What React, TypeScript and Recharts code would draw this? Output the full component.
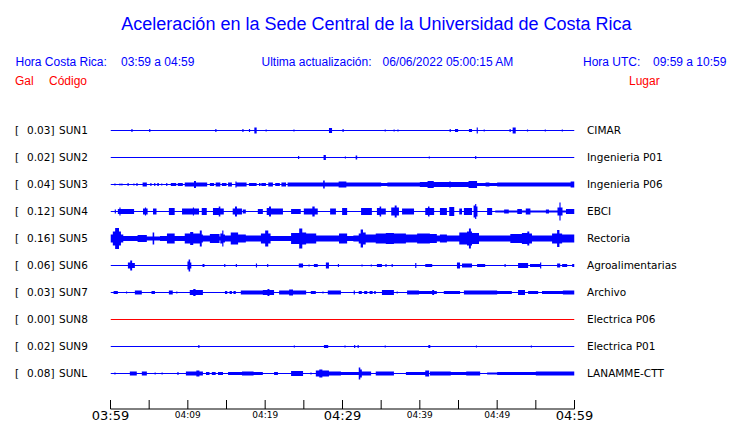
import React from "react";
import { ComposedChart, Area, XAxis, YAxis } from "recharts";

type Burst = [number, number, number]; // [start min, end min, half amplitude]

const CODES = ["SUN1", "SUN2", "SUN3", "SUN4", "SUN5", "SUN6", "SUN7", "SUN8", "SUN9", "SUNL"];
const PLACES = ["CIMAR", "Ingenieria P01", "Ingenieria P06", "EBCI", "Rectoria", "Agroalimentarias", "Archivo", "Electrica P06", "Electrica P01", "LANAMME-CTT"];
const GAL = ["0.03", "0.02", "0.04", "0.12", "0.16", "0.06", "0.03", "0.00", "0.02", "0.08"];
const BASE = [0.5, 0.5, 0.5, 0.5, 2, 0.5, 0.5, 0.5, 0.5, 0.5];
const TRACE_COLORS = ["#0000ff", "#0000ff", "#0000ff", "#0000ff", "#0000ff", "#0000ff", "#0000ff", "#ff0000", "#0000ff", "#0000ff"];
const TIME_TICKS = [0, 5, 10, 15, 20, 25, 30, 35, 40, 45, 50, 55, 60];
const TICK_LABELS: Record<number, string> = { 0: "03:59", 10: "04:09", 20: "04:19", 30: "04:29", 40: "04:39", 50: "04:49", 60: "04:59" };
const MAJOR_TICKS = [0, 30, 60];
const ROW_STEP = 27;

const SUN1: Burst[] = [
  [2.7, 2.85, 1.5], [5.0, 5.15, 1.5], [13.55, 13.7, 1.5], [17.05, 17.2, 1.5], [17.9, 18.05, 1.5],
  [18.6, 18.9, 3], [20.05, 20.2, 1], [23.65, 23.8, 1], [28.25, 28.65, 2.5], [30.0, 30.15, 1.5],
  [35.45, 35.6, 1], [36.6, 36.75, 1], [37.1, 37.25, 1], [43.85, 44.0, 1.5], [44.55, 44.95, 1.5],
  [46.35, 46.75, 1.5], [47.35, 47.5, 3], [48.25, 48.4, 1], [51.6, 51.75, 1.5], [52.0, 52.4, 3],
  [53.85, 54.0, 1], [56.15, 56.3, 1], [58.35, 58.5, 1],
];
const SUN2: Burst[] = [
  [24.25, 24.4, 1.5], [27.55, 27.85, 2.5], [30.3, 30.45, 1], [31.7, 31.9, 2], [41.15, 41.3, 1], [47.15, 47.3, 1.5],
];
const SUN3: Burst[] = [
  [0.5, 0.65, 1], [1.15, 1.3, 1], [1.4, 1.55, 1], [2.2, 2.35, 1.5], [2.95, 3.1, 1], [3.35, 3.5, 1.5],
  [4.15, 4.7, 2], [5.15, 5.3, 1.5], [5.65, 5.8, 1.5], [6.05, 6.25, 1.5], [6.55, 6.7, 1], [7.2, 7.35, 1.5],
  [7.8, 8.5, 1.5], [8.7, 9.35, 1.5], [9.6, 10.8, 2], [10.8, 11.05, 3.5], [11.05, 12.5, 2], [12.85, 13.4, 1.5],
  [13.6, 14.2, 2], [14.4, 15.0, 1.5], [15.2, 15.7, 2], [16.15, 16.3, 3], [16.3, 17.6, 2], [17.9, 18.9, 1.5],
  [19.2, 19.4, 1.5], [19.5, 20.1, 1.5], [20.4, 21.0, 2], [21.3, 21.9, 1.5], [22.1, 22.7, 2], [22.9, 27.5, 2],
  [27.5, 27.7, 4], [27.7, 29.5, 2], [29.5, 30.5, 3], [30.5, 35.0, 2], [35.0, 35.8, 1.5], [35.8, 40.0, 2],
  [40.0, 41.0, 2.5], [41.0, 41.8, 3.5], [41.8, 43.8, 2.5], [43.8, 44.0, 3], [44.0, 46.3, 2.5], [46.3, 47.4, 3.5],
  [47.4, 48.5, 1.5], [48.5, 49.0, 2], [49.0, 50.0, 1.5], [50.0, 59.5, 2], [59.5, 60, 3],
];
const SUN4: Burst[] = [
  [0.55, 0.7, 2], [0.95, 1.15, 2.5], [1.15, 1.3, 4], [1.3, 3.05, 2.5], [4.2, 4.45, 3], [4.45, 4.6, 4],
  [4.6, 4.8, 3], [5.5, 5.95, 3], [7.55, 8.3, 3.5], [9.25, 10.65, 3], [10.65, 10.8, 4], [10.8, 11.45, 3],
  [11.8, 12.45, 3.5], [13.25, 14.0, 3.5], [14.0, 14.2, 5], [14.2, 14.65, 3], [15.8, 16.1, 3], [16.1, 16.35, 5],
  [16.35, 17.0, 3], [17.1, 17.5, 2], [19.05, 19.7, 2.5], [20.2, 20.5, 3.5], [20.5, 20.75, 5], [20.75, 22.3, 3],
  [23.35, 24.6, 2.5], [25.0, 26.1, 3], [26.1, 26.4, 5], [26.4, 26.8, 3], [28.4, 29.15, 3], [29.95, 30.6, 3.5],
  [32.4, 33.8, 3.5], [34.45, 34.8, 3.5], [34.8, 35.0, 5], [35.0, 35.6, 3], [36.3, 36.75, 4], [36.75, 37.0, 6],
  [37.0, 37.3, 4], [37.7, 39.25, 3], [40.7, 41.05, 3.5], [41.05, 41.25, 5], [41.25, 41.85, 3.5], [42.6, 43.5, 3.5],
  [43.8, 44.45, 4.5], [45.1, 45.45, 3], [45.7, 46.75, 3.5], [46.95, 47.15, 6], [47.15, 47.3, 7.5], [47.3, 47.45, 5],
  [48.7, 49.35, 3.5], [49.75, 50.9, 1], [50.9, 51.5, 2], [51.5, 52.6, 1], [52.6, 53.2, 2.5], [53.2, 53.7, 1],
  [53.7, 54.3, 3], [54.3, 56.3, 1], [56.3, 56.7, 2], [56.7, 57.8, 1], [57.8, 58.05, 4], [58.05, 58.2, 9],
  [58.2, 58.45, 4], [58.45, 58.9, 1], [58.9, 60, 2.5],
];
const SUN5: Burst[] = [
  [0, 0.3, 4], [0.3, 0.6, 7], [0.6, 1.1, 10.5], [1.1, 1.35, 7], [1.35, 1.65, 4], [1.65, 3.5, 2.5],
  [3.5, 4.7, 3.5], [5.45, 5.65, 6], [6.4, 7.3, 2.5], [7.3, 8.3, 5], [8.3, 9.6, 2.5], [9.6, 10.3, 5],
  [10.3, 10.7, 6.5], [10.7, 11.55, 5], [11.55, 11.8, 8], [11.8, 11.95, 4], [11.95, 12.85, 3], [12.85, 14.1, 4.5],
  [14.2, 14.45, 5], [14.45, 14.6, 8], [14.6, 14.8, 4], [14.8, 15.55, 3], [15.55, 16.5, 6], [16.5, 17.5, 4],
  [17.5, 19.45, 3], [19.45, 20.0, 5], [20.0, 20.4, 8], [20.4, 20.7, 5], [20.7, 23.35, 2.5], [23.35, 24.4, 5.5],
  [24.4, 24.8, 10], [24.8, 25.3, 6], [25.3, 26.6, 5], [26.6, 29.55, 3], [29.55, 30.6, 5], [30.6, 31.4, 2.5],
  [31.4, 32.1, 3], [32.1, 32.35, 5], [32.35, 32.65, 9], [32.65, 33.0, 6], [33.0, 34.3, 4], [34.3, 35.6, 5],
  [35.6, 36.65, 5.5], [36.65, 38.2, 5], [38.2, 39.65, 4], [39.65, 41.3, 5], [41.3, 42.2, 4.5], [42.2, 42.6, 3],
  [42.6, 43.5, 4], [43.5, 45.1, 3], [45.1, 46.1, 6], [46.1, 46.35, 7], [46.35, 46.6, 10], [46.6, 46.75, 7],
  [46.75, 47.65, 5.5], [47.65, 51.7, 3], [51.7, 53.2, 4.5], [53.2, 53.9, 5.5], [53.9, 54.15, 7], [54.15, 54.5, 5],
  [54.5, 57.1, 3], [57.1, 57.75, 5], [57.75, 58.05, 8.5], [58.05, 58.4, 5], [58.4, 60, 4],
];
const SUN6: Burst[] = [
  [2.25, 2.55, 3], [2.55, 2.8, 5], [2.8, 3.15, 2.5], [9.95, 10.1, 4], [10.1, 10.3, 6], [10.3, 10.45, 3],
  [11.9, 12.15, 1.5], [14.7, 14.85, 1.5], [16.2, 16.35, 1.5], [18.8, 18.95, 2], [20.25, 20.4, 1.5],
  [24.35, 24.9, 2], [25.6, 25.75, 1], [26.3, 26.8, 1.5], [27.85, 28.25, 3], [29.4, 29.55, 1.5],
  [32.45, 32.6, 1], [33.65, 33.8, 1], [34.45, 35.1, 1.5], [35.55, 35.7, 1.5], [36.35, 36.5, 1.5],
  [39.4, 39.55, 2.5], [40.7, 41.6, 1.5], [44.8, 45.2, 3], [45.45, 46.75, 2], [47.4, 48.45, 1.5],
  [50.95, 51.1, 1.5], [52.7, 54.0, 2.5], [54.25, 55.55, 1.5], [55.55, 55.7, 3], [57.75, 58.15, 2],
  [58.4, 59.05, 1.5], [59.7, 60, 1.5],
];
const SUN7: Burst[] = [
  [0.4, 0.95, 1.5], [2.0, 2.15, 1], [3.15, 4.05, 2], [5.3, 5.75, 1.5], [7.55, 8.05, 2], [8.5, 8.65, 1],
  [10.25, 10.7, 2.5], [10.7, 11.0, 3.5], [11.0, 11.95, 2.5], [14.8, 15.1, 1.5], [15.4, 15.7, 1.5],
  [15.9, 16.2, 1.5], [16.85, 19.7, 2], [19.7, 20.3, 2.5], [20.3, 20.55, 3.5], [20.55, 21.15, 2.5],
  [21.8, 23.1, 2], [23.1, 23.6, 3], [23.6, 25.3, 2], [25.9, 26.55, 1.5], [27.4, 27.55, 1], [28.1, 29.8, 2],
  [31.45, 31.6, 2], [32.1, 32.5, 1.5], [32.8, 33.2, 1.5], [33.5, 33.9, 1.5], [34.1, 34.3, 1.5],
  [35.1, 36.65, 2.5], [37.0, 37.15, 1], [38.35, 39.9, 2], [39.9, 41.6, 1.5], [41.6, 41.85, 2.5],
  [41.85, 42.2, 1.5], [43.1, 45.2, 1.5], [45.7, 50.0, 2], [50.0, 51.9, 1.5], [52.7, 53.6, 2.5],
  [54.0, 55.3, 1.5], [55.8, 58.5, 1.5], [58.5, 60, 2],
];
const SUN8: Burst[] = [];
const SUN9: Burst[] = [
  [11.35, 11.5, 1.5], [23.7, 23.85, 1], [27.6, 28.15, 1.5], [30.25, 30.4, 1], [31.5, 31.65, 1.5],
  [31.95, 32.1, 1.5], [35.45, 35.6, 1], [41.1, 41.35, 1.5], [47.25, 47.4, 1], [54.35, 54.5, 1],
];
const SUNL: Burst[] = [
  [0.5, 0.65, 1], [2.5, 3.4, 2], [4.05, 4.7, 2], [5.7, 5.85, 1], [6.6, 6.75, 1], [8.65, 8.8, 1.5],
  [9.75, 11.1, 2], [11.1, 11.5, 3], [11.5, 11.95, 2], [12.35, 12.8, 1.5], [13.1, 13.6, 1.5], [13.9, 14.55, 1.5],
  [15.2, 17.0, 1.5], [17.0, 18.5, 2], [18.5, 19.7, 1.5], [21.15, 21.65, 1.5], [23.35, 24.9, 2.5],
  [25.85, 26.0, 1], [26.55, 27.0, 3], [27.0, 27.4, 4], [27.4, 28.25, 3], [28.25, 29.8, 2], [29.8, 32.1, 1.5],
  [32.1, 32.3, 6], [32.3, 32.5, 4], [32.5, 33.7, 2], [34.3, 36.65, 2], [38.2, 39.9, 1.5], [39.9, 40.7, 1.5],
  [40.7, 41.2, 3], [41.3, 44.0, 2], [44.0, 46.0, 1.5], [46.0, 47.8, 2], [48.7, 50.0, 1], [50.0, 55.0, 1.5],
  [55.0, 60, 2],
];
const BURSTS: Burst[][] = [SUN1, SUN2, SUN3, SUN4, SUN5, SUN6, SUN7, SUN8, SUN9, SUNL];
const ROW_VALUES = CODES.map((_, i) => -ROW_STEP * i);

function buildTrace(row: number) {
  const off = ROW_VALUES[row];
  const base = BASE[row];
  const pts: { t: number; r: [number, number] }[] = [];
  const push = (t: number, a: number) => pts.push({ t, r: [off - a, off + a] });
  push(0, base);
  for (const [s, e, a] of BURSTS[row]) {
    push(s, a);
    push(e, base);
  }
  push(60, base);
  return pts;
}

const TRACES = CODES.map((_, i) => buildTrace(i));

const BLUE = "#0000ff";
const RED = "#ff0000";

const TimeTick = (p: any) => {
  const { x, y, payload } = p;
  const label = TICK_LABELS[payload.value];
  const major = MAJOR_TICKS.includes(payload.value);
  return (
    <g>
      <line x1={x} x2={x} y1={y - 9} y2={y} stroke="#000" strokeWidth={1} />
      {label ? (
        <text
          x={x}
          y={major ? y + 11 : y + 9}
          textAnchor="middle"
          fontFamily="DejaVu Sans"
          fontSize={major ? 13 : 9}
          fill="#000"
        >
          {label}
        </text>
      ) : null}
    </g>
  );
};

const LeftTick = (p: any) => {
  const { x, y, payload } = p;
  const i = Math.round(-payload.value / ROW_STEP);
  return (
    <g fontFamily="DejaVu Sans" fontSize={10.5} fill="#000">
      <text x={x - 95.5} y={y + 3.8}>[</text>
      <text x={x - 83.5} y={y + 3.8}>{GAL[i]}]</text>
      <text x={x - 51.5} y={y + 3.8}>{CODES[i]}</text>
    </g>
  );
};

const RightTick = (p: any) => {
  const { x, y, payload } = p;
  const i = Math.round(-payload.value / ROW_STEP);
  return (
    <text x={x + 12.5} y={y + 3.8} fontFamily="DejaVu Sans" fontSize={10.5} fill="#000">
      {PLACES[i]}
    </text>
  );
};

export default function App() {
  return (
    <div style={{ position: "absolute", left: 0, top: 0, width: 740, height: 423, background: "#fff" }}>
      <svg width={740} height={423} style={{ position: "absolute", left: 0, top: 0 }}>
        <g fontFamily="Liberation Sans">
          <text x={376.5} y={29.5} textAnchor="middle" fontSize={18} fill={BLUE}>
            Aceleración en la Sede Central de la Universidad de Costa Rica
          </text>
          <text x={15.5} y={65.5} fontSize={12} fill={BLUE}>Hora Costa Rica:</text>
          <text x={121} y={65.5} fontSize={12} fill={BLUE}>03:59 a 04:59</text>
          <text x={261.5} y={65.5} fontSize={12} fill={BLUE}>Ultima actualización:</text>
          <text x={382.5} y={65.5} fontSize={12} fill={BLUE}>06/06/2022 05:00:15 AM</text>
          <text x={583} y={65.5} fontSize={12} fill={BLUE}>Hora UTC:</text>
          <text x={653} y={65.5} fontSize={12} fill={BLUE}>09:59 a 10:59</text>
          <text x={15} y={84.5} fontSize={12} fill={RED}>Gal</text>
          <text x={49} y={84.5} fontSize={12} fill={RED}>Código</text>
          <text x={629} y={84.5} fontSize={12} fill={RED}>Lugar</text>
        </g>
      </svg>
      <div style={{ position: "absolute", left: 0, top: 0 }}>
        <ComposedChart width={740} height={423} margin={{ top: 117, right: 0, bottom: 0, left: 15 }}>
          <XAxis
            type="number"
            dataKey="t"
            domain={[0, 60]}
            ticks={TIME_TICKS}
            interval={0}
            tickSize={0}
            tickMargin={0}
            height={14}
            axisLine={{ stroke: "#000", strokeWidth: 1 }}
            tickLine={false}
            tick={<TimeTick />}
            allowDataOverflow
          />
          <YAxis
            yAxisId="left"
            type="number"
            domain={[-278.5, 13.5]}
            ticks={ROW_VALUES}
            interval={0}
            width={95.5}
            tickSize={0}
            tickMargin={0}
            axisLine={false}
            tickLine={false}
            tick={<LeftTick />}
            allowDataOverflow
          />
          <YAxis
            yAxisId="right"
            orientation="right"
            type="number"
            domain={[-278.5, 13.5]}
            ticks={ROW_VALUES}
            interval={0}
            width={165.5}
            tickSize={0}
            tickMargin={0}
            axisLine={false}
            tickLine={false}
            tick={<RightTick />}
            allowDataOverflow
          />
          {TRACES.map((data, i) => (
            <Area
              key={CODES[i]}
              yAxisId={i === 7 ? "right" : "left"}
              data={data}
              dataKey="r"
              type="stepAfter"
              stroke="none"
              fill={TRACE_COLORS[i]}
              fillOpacity={1}
              dot={false}
              activeDot={false}
              isAnimationActive={false}
            />
          ))}
        </ComposedChart>
      </div>
    </div>
  );
}
